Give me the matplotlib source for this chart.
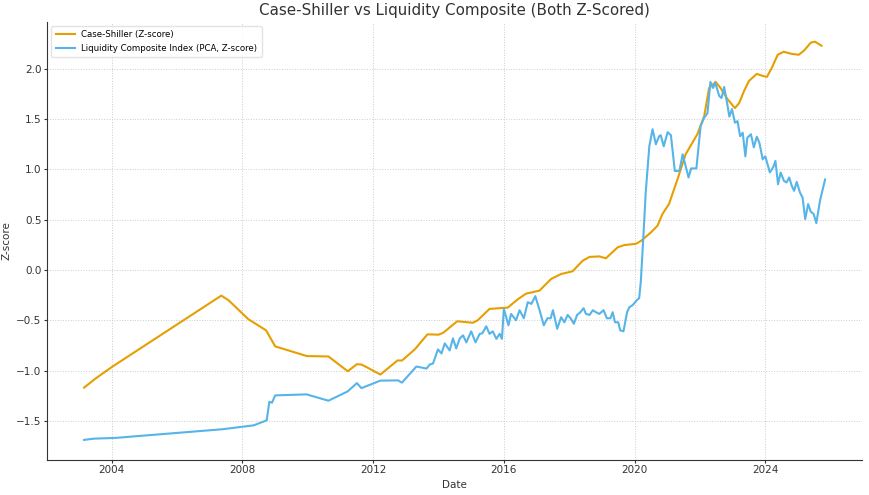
import datetime as dt
import matplotlib
matplotlib.use("Agg")
import matplotlib.pyplot as plt
import matplotlib.dates as mdates

# dates as decimal years
cs_years = [2003.15, 2003.5, 2004.0, 2007.35, 2007.57, 2008.18, 2008.72, 2009.0,
            2009.97, 2010.63, 2011.22, 2011.5, 2011.64, 2011.85, 2012.22, 2012.74,
            2012.88, 2013.27, 2013.66, 2014.0, 2014.14, 2014.57, 2015.05, 2015.2,
            2015.56, 2016.12, 2016.43, 2016.68, 2017.09, 2017.44, 2017.75, 2018.1,
            2018.41, 2018.62, 2018.92, 2019.12, 2019.48, 2019.69, 2020.04, 2020.2,
            2020.5, 2020.7, 2020.85, 2021.05, 2021.31, 2021.56, 2021.92, 2022.13,
            2022.28, 2022.48, 2022.63, 2022.84, 2023.07, 2023.2, 2023.35, 2023.5,
            2023.74, 2023.92, 2024.05, 2024.2, 2024.38, 2024.56, 2024.79, 2025.02,
            2025.18, 2025.39, 2025.52, 2025.72]
cs_z = [-1.17, -1.08, -0.965, -0.255, -0.30, -0.49, -0.60, -0.76,
        -0.856, -0.86, -1.007, -0.937, -0.94, -0.975, -1.04, -0.90,
        -0.90, -0.79, -0.64, -0.643, -0.625, -0.51, -0.525, -0.50,
        -0.387, -0.374, -0.29, -0.235, -0.205, -0.09, -0.04, -0.013,
        0.092, 0.13, 0.135, 0.116, 0.225, 0.248, 0.26, 0.29,
        0.374, 0.44, 0.556, 0.655, 0.90, 1.15, 1.35, 1.53,
        1.81, 1.87, 1.81, 1.70, 1.61, 1.66, 1.78, 1.88,
        1.95, 1.93, 1.92, 2.01, 2.14, 2.17, 2.15, 2.14,
        2.18, 2.26, 2.27, 2.23]

liq_years = [2003.15, 2003.45, 2004.1, 2007.37, 2008.34, 2008.74, 2008.82, 2008.9,
             2009.0, 2009.96, 2010.63, 2011.22, 2011.5, 2011.64, 2012.22, 2012.76,
             2012.88, 2013.32, 2013.63, 2013.73, 2013.83, 2013.98, 2014.09, 2014.19,
             2014.34, 2014.44, 2014.54, 2014.65, 2014.75, 2014.85, 2015.0, 2015.13,
             2015.26, 2015.34, 2015.46, 2015.56, 2015.66, 2015.77, 2015.87, 2015.94,
             2016.0, 2016.14, 2016.22, 2016.37, 2016.48, 2016.61, 2016.73, 2016.84,
             2016.96, 2017.09, 2017.22, 2017.33, 2017.43, 2017.5, 2017.63, 2017.75,
             2017.85, 2017.95, 2018.04, 2018.14, 2018.24, 2018.34, 2018.44, 2018.51,
             2018.62, 2018.72, 2018.82, 2018.92, 2019.05, 2019.15, 2019.26, 2019.33,
             2019.4, 2019.5, 2019.56, 2019.66, 2019.77, 2019.84, 2019.94, 2020.07,
             2020.14, 2020.19, 2020.27, 2020.34, 2020.45, 2020.55, 2020.65, 2020.75,
             2020.8, 2020.89, 2021.01, 2021.11, 2021.23, 2021.37, 2021.47, 2021.65,
             2021.73, 2021.89, 2022.02, 2022.12, 2022.23, 2022.32, 2022.4, 2022.47,
             2022.59, 2022.66, 2022.74, 2022.82, 2022.9, 2022.98, 2023.07, 2023.15,
             2023.23, 2023.31, 2023.39, 2023.45, 2023.56, 2023.65, 2023.74, 2023.82,
             2023.92, 2024.0, 2024.14, 2024.24, 2024.31, 2024.39, 2024.47, 2024.57,
             2024.65, 2024.73, 2024.81, 2024.88, 2024.96, 2025.06, 2025.14, 2025.22,
             2025.31, 2025.39, 2025.48, 2025.56, 2025.68, 2025.83]
liq_z = [-1.69, -1.677, -1.67, -1.584, -1.545, -1.495, -1.31, -1.32,
         -1.247, -1.237, -1.30, -1.207, -1.125, -1.175, -1.10, -1.098,
         -1.12, -0.96, -0.98, -0.94, -0.93, -0.79, -0.83, -0.73,
         -0.80, -0.68, -0.78, -0.68, -0.65, -0.72, -0.61, -0.72,
         -0.635, -0.63, -0.56, -0.635, -0.61, -0.685, -0.635, -0.685,
         -0.387, -0.55, -0.437, -0.50, -0.40, -0.48, -0.32, -0.337,
         -0.26, -0.40, -0.55, -0.48, -0.48, -0.40, -0.585, -0.47,
         -0.52, -0.447, -0.48, -0.535, -0.447, -0.42, -0.38, -0.437,
         -0.447, -0.40, -0.42, -0.437, -0.40, -0.48, -0.48, -0.42,
         -0.52, -0.52, -0.60, -0.61, -0.42, -0.37, -0.35, -0.30,
         -0.28, -0.12, 0.34, 0.77, 1.23, 1.40, 1.25, 1.33,
         1.34, 1.23, 1.37, 1.34, 0.985, 0.985, 1.15, 0.92,
         1.01, 1.01, 1.43, 1.51, 1.56, 1.87, 1.81, 1.86,
         1.73, 1.71, 1.82, 1.68, 1.525, 1.60, 1.465, 1.48,
         1.33, 1.365, 1.13, 1.315, 1.35, 1.22, 1.325, 1.265,
         1.10, 1.13, 0.97, 1.02, 1.085, 0.853, 0.97, 0.886,
         0.87, 0.92, 0.836, 0.787, 0.876, 0.77, 0.72, 0.506,
         0.655, 0.58, 0.556, 0.466, 0.70, 0.90]


def to_date(y):
    year = int(y)
    start = dt.datetime(year, 1, 1)
    end = dt.datetime(year + 1, 1, 1)
    return start + (end - start) * (y - year)


cs_dates = [to_date(y) for y in cs_years]
liq_dates = [to_date(y) for y in liq_years]

fig = plt.figure(figsize=(8.7, 4.95), dpi=100)
ax = fig.add_axes([0.054, 0.071, 0.937, 0.885])

ax.plot(cs_dates, cs_z, color="#E69F00", lw=1.5, label="Case-Shiller (Z-score)")
ax.plot(liq_dates, liq_z, color="#56B4E9", lw=1.5,
        label="Liquidity Composite Index (PCA, Z-score)")

ax.xaxis.set_major_locator(mdates.YearLocator(4))
ax.xaxis.set_major_formatter(mdates.DateFormatter("%Y"))

ax.grid(True, linestyle=":", color="#cccccc", linewidth=0.7)
for s in ["top", "right"]:
    ax.spines[s].set_visible(False)
for s in ["left", "bottom"]:
    ax.spines[s].set_color("#333333")
ax.tick_params(labelsize=7.5, colors="#333333", length=2, pad=2)

ax.set_title("Case-Shiller vs Liquidity Composite (Both Z-Scored)", fontsize=10.9,
             color="#333333", pad=5)
ax.set_xlabel("Date", fontsize=7.5, color="#333333", labelpad=3)
ax.set_ylabel("Z-score", fontsize=7.5, color="#333333")
ax.yaxis.set_label_coords(-0.043, 0.5)
ax.legend(loc="upper left", fontsize=6.2, frameon=True, edgecolor="#dddddd",
          handlelength=2.2, borderpad=0.5)

fig.savefig("out.png", dpi=100)
